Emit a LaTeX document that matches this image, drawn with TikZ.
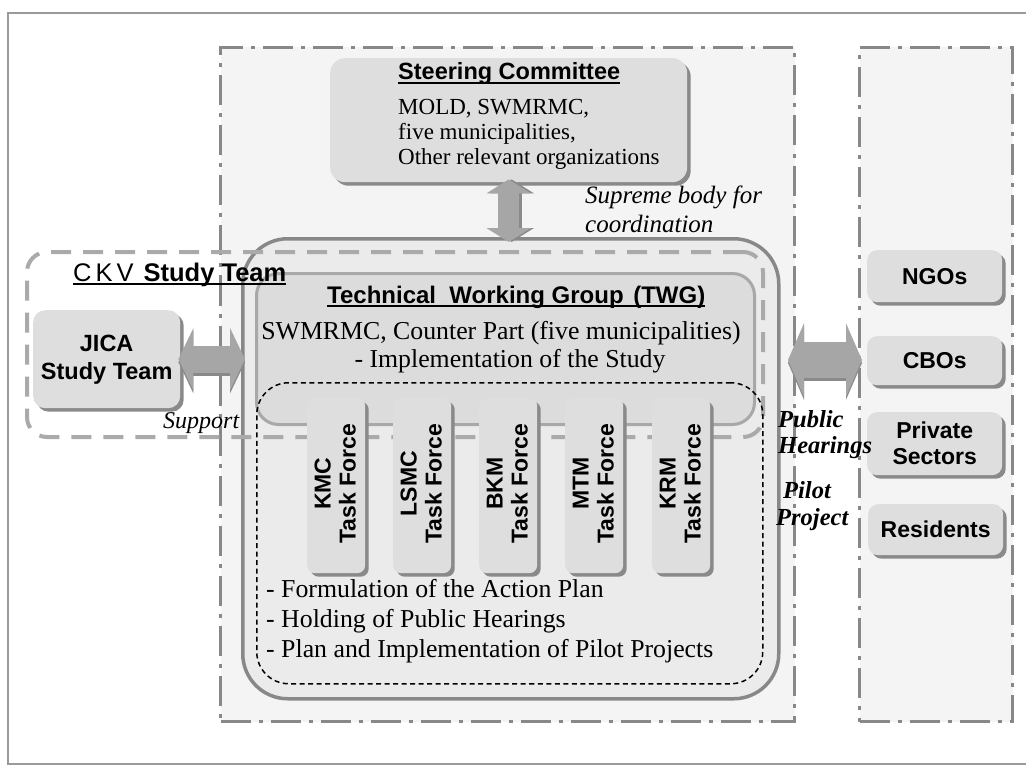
\documentclass[tikz,border=0pt]{standalone}
\usepackage{fontspec}
\setmainfont{Liberation Serif}
\setsansfont{Liberation Sans}
\usetikzlibrary{arrows.meta,shadows,calc}
\definecolor{framegray}{HTML}{9A9A9A}
\definecolor{dashgray}{HTML}{888888}
\definecolor{panel}{HTML}{F4F4F4}
\definecolor{boxfill}{HTML}{DEDEDE}
\definecolor{shadowgray}{HTML}{8A8A8A}
\definecolor{twgfill}{HTML}{EBEBEB}
\definecolor{innerfill}{HTML}{DCDCDC}
\definecolor{innerdraw}{HTML}{A8A8A8}
\definecolor{ckvgray}{HTML}{AAAAAA}
\definecolor{arrowgray}{HTML}{A6A6A6}
\tikzset{
  panelbox/.style={rectangle, anchor=north west, inner sep=0pt, fill=panel, draw=dashgray, line width=3pt,
    dash pattern=on 30pt off 8pt on 4pt off 8pt},
  graybox/.style={rectangle, anchor=north west, inner sep=0pt, rounded corners=10pt, fill=boxfill,
    drop shadow={shadow xshift=3.5pt, shadow yshift=-3.5pt, fill=shadowgray, opacity=1}},
  sanslab/.style={font=\sffamily\bfseries\fontsize{23}{27}\selectfont, align=center, inner sep=0pt},
  serif/.style={font=\rmfamily\fontsize{23}{27}\selectfont, inner sep=0pt, anchor=base west},
  bigserif/.style={font=\rmfamily\fontsize{25.8}{30}\selectfont, inner sep=0pt, anchor=base west},
  ital/.style={font=\rmfamily\itshape\fontsize{25}{28}\selectfont, inner sep=0pt, anchor=base west},
  bital/.style={font=\rmfamily\bfseries\itshape\fontsize{24.5}{28}\selectfont, inner sep=0pt, anchor=base west},
  title/.style={font=\sffamily\bfseries\fontsize{23.5}{27}\selectfont, inner sep=0pt, anchor=base west},
  uline/.style={line width=1.3pt, black},
  tfbox/.style={graybox, rounded corners=8pt, minimum width=58pt, minimum height=175pt},
  tftext/.style={sanslab, rotate=90, font=\sffamily\bfseries\fontsize{23}{25}\selectfont},
  rbox/.style={graybox, minimum width=135pt},
}
\begin{document}
\begin{tikzpicture}[x=1pt,y=-1pt]
\useasboundingbox (0,0) rectangle (1026,765);
% outer frame
\draw[framegray, line width=2pt] (8,13) rectangle (1040,764);
% panels
\node[panelbox, minimum width=574pt, minimum height=674pt] (main) at (219,46) {};
\node[panelbox, minimum width=153pt, minimum height=674pt] (side) at (858,46) {};
% steering committee
\node[graybox, rounded corners=15pt, minimum width=357pt, minimum height=124pt] (sc) at (330,58) {};
\node[title] (sct) at (398,80) {Steering Committee};
\draw[uline] ($(sct.base west)+(0,3)$) -- ($(sct.base east)+(0,3)$);
\node[serif] (sc1) at (398,115) {MOLD, SWMRMC,};
\node[serif] (sc2) at (398,140) {five municipalities,};
\node[serif] (sc3) at (398,165) {Other relevant organizations};
% TWG outer
\node[rectangle, anchor=north west, inner sep=0pt, draw=dashgray, line width=3.5pt, fill=twgfill,
  rounded corners=45pt, minimum width=536pt, minimum height=460pt] (twgo) at (241,237) {};
% vertical arrow
\draw[line width=21pt, shadowgray, {Triangle[length=14pt,width=44pt]}-{Triangle[length=14pt,width=44pt]},
  shorten <=-3pt, shorten >=-5pt, transform canvas={xshift=3pt}] (sc.south) -- (sc.south |- twgo.north);
\draw[line width=21pt, arrowgray, {Triangle[length=14pt,width=44pt]}-{Triangle[length=14pt,width=44pt]},
  shorten <=-3pt, shorten >=-5pt] (sc.south) -- (sc.south |- twgo.north);
% CKV dashed team box
\node[rectangle, anchor=north west, inner sep=0pt, draw=ckvgray, line width=4pt, dash pattern=on 20pt off 12pt,
  rounded corners=20pt, minimum width=736pt, minimum height=185pt] (ckv) at (25,250) {};
% TWG inner
\node[rectangle, anchor=north west, inner sep=0pt, draw=innerdraw, line width=3pt, fill=innerfill,
  rounded corners=22pt, minimum width=498pt, minimum height=151pt] (twgi) at (255,272) {};
\node[title, font=\sffamily\bfseries\fontsize{24}{27}\selectfont] (twgt) at (327,303) {Technical~~Working Group\hspace{0.4em}(TWG)};
\draw[uline] ($(twgt.base west)+(0,3)$) -- ($(twgt.base east)+(0,3)$);
\node[bigserif, anchor=base] (twg1) at (501,339) {SWMRMC, Counter Part (five municipalities)};
\node[bigserif, anchor=base] (twg2) at (510,367) {- Implementation of the Study};
% task forces
\node[tfbox] (tf1) at (307,398) {};
\node[tfbox] (tf2) at (393,398) {};
\node[tfbox] (tf3) at (479,398) {};
\node[tfbox] (tf4) at (565,398) {};
\node[tfbox] (tf5) at (652,398) {};
\node[tftext] (tf1t) at ($(tf1.center)+(-1,-2)$) {KMC\\Task Force};
\node[tftext] (tf2t) at ($(tf2.center)+(-1,-2)$) {LSMC\\Task Force};
\node[tftext] (tf3t) at ($(tf3.center)+(-1,-2)$) {BKM\\Task Force};
\node[tftext] (tf4t) at ($(tf4.center)+(-1,-2)$) {MTM\\Task Force};
\node[tftext] (tf5t) at ($(tf5.center)+(-1,-2)$) {KRM\\Task Force};
% dashed task zone
\node[rectangle, anchor=north west, inner sep=0pt, draw=black, line width=1.5pt, dash pattern=on 5pt off 3.5pt,
  rounded corners=32pt, minimum width=506pt, minimum height=301pt] (tfz) at (256,382) {};
\node[bigserif] (b1) at (266,597) {- Formulation of the Action Plan};
\node[bigserif] (b2) at (266,627) {- Holding of Public Hearings};
\node[bigserif] (b3) at (266,657) {- Plan and Implementation of Pilot Projects};
% JICA
\node[graybox, rounded corners=12pt, minimum width=147pt, minimum height=98pt] (jica) at (33,310) {};
\node[sanslab, font=\sffamily\bfseries\fontsize{23.5}{28}\selectfont] (jicat) at ($(jica.center)+(0,1)$) {JICA\\Study Team};
\draw[line width=27pt, shadowgray, {Triangle[length=15pt,width=62pt]}-{Triangle[length=15pt,width=62pt]},
  shorten <=-2pt, shorten >=-4pt, transform canvas={yshift=-3pt}] (jica.east) -- (jica.east -| twgo.west);
\draw[line width=27pt, arrowgray, {Triangle[length=15pt,width=62pt]}-{Triangle[length=15pt,width=62pt]},
  shorten <=-2pt, shorten >=-4pt] (jica.east) -- (jica.east -| twgo.west);
% right boxes
\node[rbox, minimum height=52pt] (ngo) at (867,250) {};
\node[rbox, minimum height=49pt] (cbo) at (867,336) {};
\node[rbox, minimum height=63pt] (pri) at (867,412) {};
\node[rbox, minimum height=51pt] (res) at (868,504) {};
\node[sanslab] (ngot) at (ngo.center) {NGOs};
\node[sanslab] (cbot) at (cbo.center) {CBOs};
\node[sanslab, font=\sffamily\bfseries\fontsize{23}{26}\selectfont] (prit) at (pri.center) {Private\\Sectors};
\node[sanslab] (rest) at (res.center) {Residents};
\coordinate (pa) at (788,360);
\draw[line width=36pt, shadowgray, {Triangle[length=16pt,width=73pt]}-{Triangle[length=16pt,width=73pt]},
  shorten >=5pt, transform canvas={yshift=-3pt}] (pa) -- (pa -| cbo.west);
\draw[line width=36pt, arrowgray, {Triangle[length=16pt,width=73pt]}-{Triangle[length=16pt,width=73pt]},
  shorten >=5pt] (pa) -- (pa -| cbo.west);
% italic labels
\node[ital] (sup1) at (585,204) {Supreme body for};
\node[ital] (sup2) at (585,233) {coordination};
\node[ital, font=\rmfamily\itshape\fontsize{24}{28}\selectfont] (supp) at (163,428) {Support};
\node[bital] (ph1) at (778,427) {Public};
\node[bital] (ph2) at (778,453) {Hearings};
\node[bital] (pp1) at (783,498) {Pilot};
\node[bital] (pp2) at (776,525) {Project};
% CKV title
\node[title, font=\sffamily\bfseries\fontsize{25.5}{28}\selectfont] (ckvt) at (73,281)
  {{\mdseries C\hspace{4pt}K\hspace{4pt}V}\hspace{10pt}Study Team};
\draw[uline] ($(ckvt.base west)+(0,3)$) -- ($(ckvt.base east)+(0,3)$);
\end{tikzpicture}
\end{document}
